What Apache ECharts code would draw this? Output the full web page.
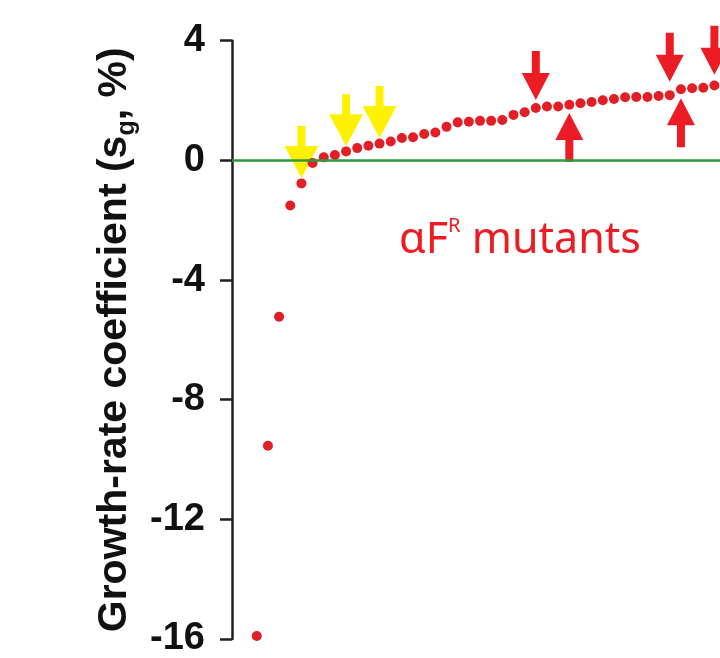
<!DOCTYPE html>
<html>
<head>
<meta charset="utf-8">
<script src="https://cdn.jsdelivr.net/npm/echarts@6/dist/echarts.min.js"></script>
<style>
  html, body { margin: 0; padding: 0; background: #fff; }
  #chart { width: 720px; height: 658px; }
</style>
</head>
<body>
<div id="chart"></div>
<script>
// growth-rate coefficients (s_g, %) of the mutants, sorted ascending (rank = index + 1)
var sgValues = [
  -15.90, -9.54, -5.23, -1.51, -0.77, -0.09, 0.10, 0.18, 0.30, 0.41,
  0.49, 0.56, 0.63, 0.75, 0.77, 0.88, 0.93, 1.12, 1.27, 1.29,
  1.32, 1.32, 1.35, 1.52, 1.61, 1.75, 1.80, 1.80, 1.86, 1.91,
  1.95, 2.01, 2.05, 2.11, 2.12, 2.12, 2.15, 2.18, 2.38, 2.41,
  2.43, 2.50
];
var yTicks = [4, 0, -4, -8, -12, -16];

// arrows: [rank, value at the arrow tip]
var yellowDown = [[5, -0.59], [9, 0.47], [12, 0.75]];
var redDown = [[26, 2.02], [38, 2.63], [42, 2.86]];
var redUp = [[29, 1.58], [39, 2.08]];

var chart = echarts.init(document.getElementById('chart'));

var points = sgValues.map(function (v, i) { return [i + 1, v]; });

// arrow shapes (tip at bottom for down, at top for up)
var yellowDownPath = 'path://M13,0 L21,0 L21,20 L34,20 L17,52 L0,20 L13,20 Z';
var redDownPath = 'path://M10,0 L18,0 L18,22 L28,22 L14,49 L0,22 L10,22 Z';
var redUpPath = 'path://M14,0 L28,27 L18,27 L18,49 L10,49 L10,27 L0,27 Z';

var option = {
  animation: false,
  backgroundColor: '#ffffff',
  grid: {
    left: 232,
    right: 0,
    top: 40.7,
    bottom: 17.3
  },
  xAxis: {
    type: 'value',
    min: -1.22,
    max: 42.5,
    show: false
  },
  yAxis: {
    type: 'value',
    min: -16,
    max: 4,
    interval: 4,
    name: 'Growth-rate coefficient (s{sub|g}, %)',
    nameLocation: 'middle',
    nameRotate: 90,
    nameGap: 82,
    nameTextStyle: {
      fontFamily: 'Liberation Sans, Arial, sans-serif',
      fontWeight: 'bold',
      fontSize: 41,
      color: '#111',
      lineHeight: 48,
      rich: {
        sub: {
          fontFamily: 'Liberation Sans, Arial, sans-serif',
          fontWeight: 'bold',
          fontSize: 25,
          color: '#111',
          lineHeight: 24,
          verticalAlign: 'bottom'
        }
      }
    },
    axisLine: { show: true, onZero: false, lineStyle: { color: '#231f20', width: 2.5 } },
    axisTick: { show: true, inside: false, length: 12, lineStyle: { color: '#231f20', width: 2.5 } },
    splitLine: { show: false },
    axisLabel: {
      margin: 27,
      fontFamily: 'Liberation Sans, Arial, sans-serif',
      fontWeight: 'bold',
      fontSize: 38,
      color: '#111',
      formatter: function (v) { return yTicks.indexOf(v) >= 0 ? String(v) : ''; }
    }
  },
  series: [
    {
      name: 'yellow arrows',
      type: 'scatter',
      clip: false,
      silent: true,
      z: 1,
      symbol: yellowDownPath,
      symbolSize: [34, 52],
      symbolOffset: [0, -26],
      itemStyle: { color: '#fff200', opacity: 1 },
      data: yellowDown
    },
    {
      name: 'red down arrows',
      type: 'scatter',
      clip: false,
      silent: true,
      z: 1,
      symbol: redDownPath,
      symbolSize: [28, 49],
      symbolOffset: [0, -24.5],
      itemStyle: { color: '#ec1c24', opacity: 1 },
      data: redDown
    },
    {
      name: 'red up arrows',
      type: 'scatter',
      clip: false,
      silent: true,
      z: 1,
      symbol: redUpPath,
      symbolSize: [28, 49],
      symbolOffset: [0, 24.5],
      itemStyle: { color: '#ec1c24', opacity: 1 },
      data: redUp
    },
    {
      name: 'mutants',
      type: 'scatter',
      clip: false,
      z: 3,
      symbol: 'circle',
      symbolSize: 10,
      itemStyle: { color: '#e21f26', opacity: 1 },
      data: points,
      markLine: {
        silent: true,
        symbol: ['none', 'none'],
        label: { show: false },
        lineStyle: { color: '#2f9a3d', width: 2.5, type: 'solid' },
        data: [{ yAxis: 0 }]
      }
    }
  ],
  graphic: [
    {
      type: 'text',
      left: 399,
      top: 216,
      style: {
        text: '{m|\u03b1F}{sup|R}{m| mutants}',
        rich: {
          m: {
            fontFamily: 'Noto Sans, Open Sans, sans-serif',
            fontSize: 43,
            lineHeight: 50,
            fill: '#ec1c24'
          },
          sup: {
            fontFamily: 'Noto Sans, Open Sans, sans-serif',
            fontSize: 20,
            lineHeight: 34,
            verticalAlign: 'top',
            fill: '#ec1c24'
          }
        }
      }
    }
  ]
};

chart.setOption(option);
</script>
</body>
</html>
